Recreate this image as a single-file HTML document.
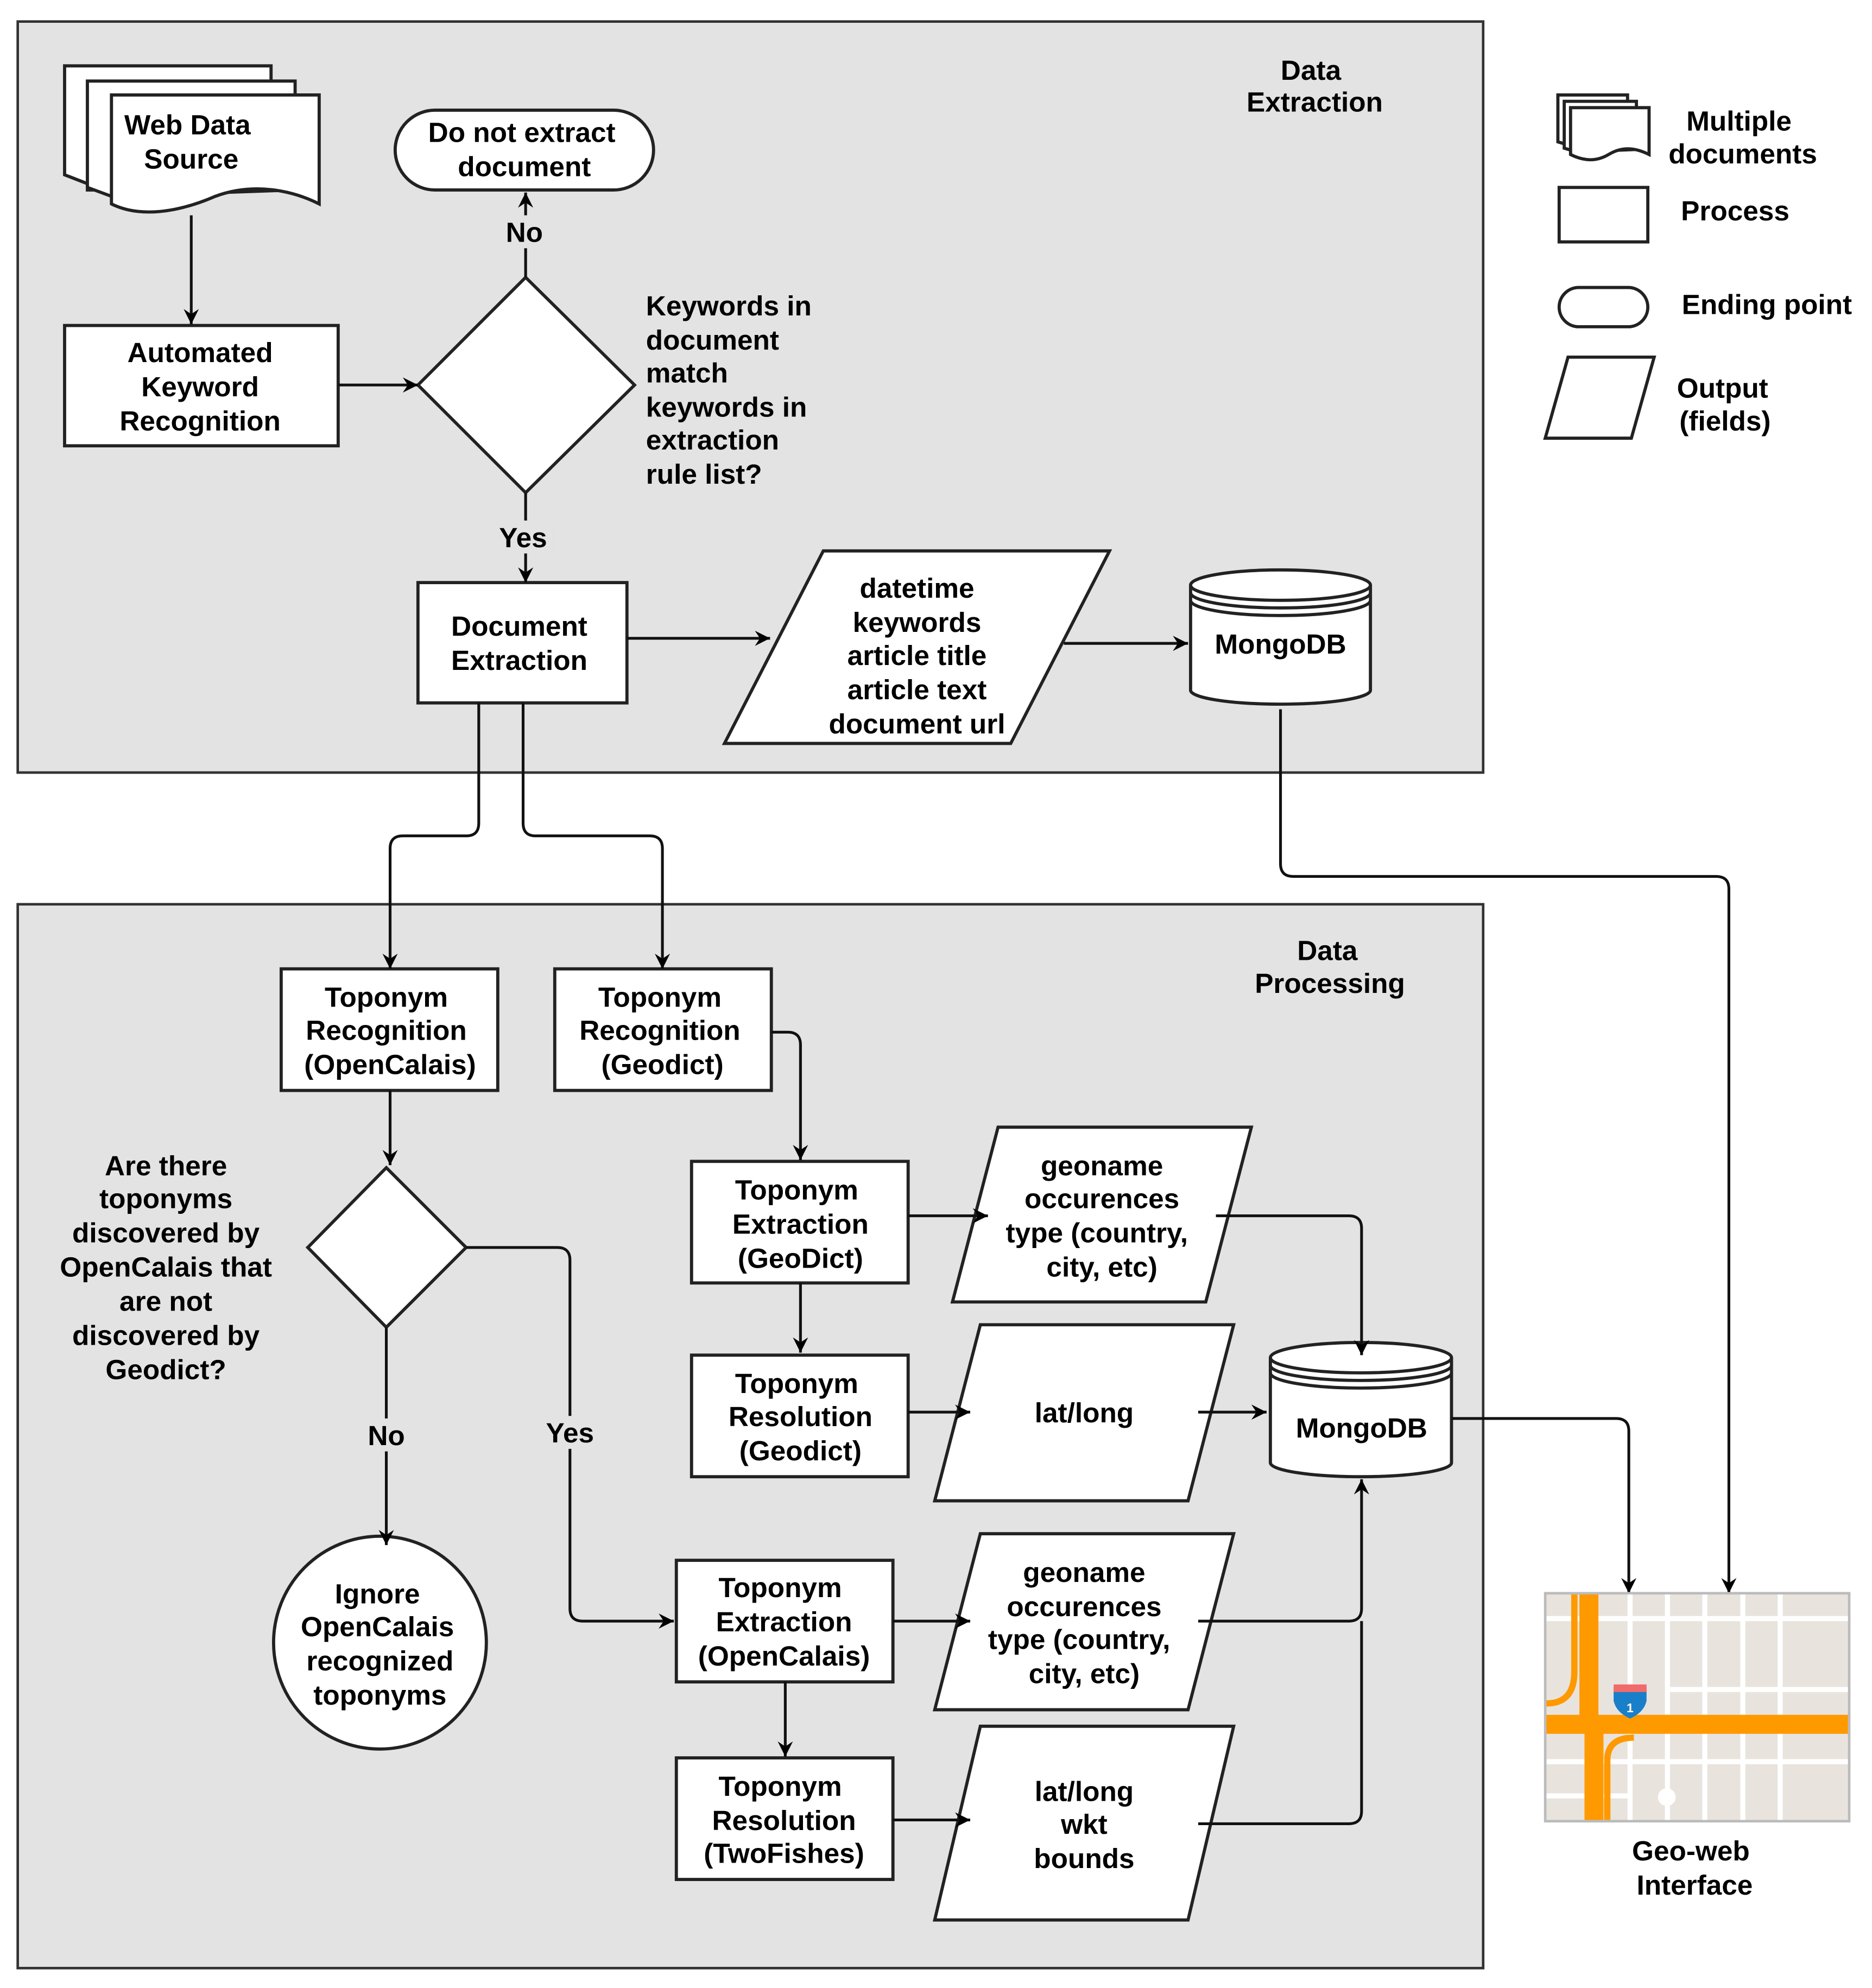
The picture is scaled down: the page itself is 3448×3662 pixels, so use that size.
<!DOCTYPE html>
<html><head><meta charset="utf-8"><style>html,body{margin:0;padding:0;background:#fff}svg{display:block}</style></head>
<body>
<svg width="3448" height="3662" viewBox="0 0 1478 1569.7" preserveAspectRatio="none" xmlns="http://www.w3.org/2000/svg" font-family="Liberation Sans, Arial, sans-serif" font-weight="bold" font-size="22">
<defs>
<marker id="a" markerUnits="userSpaceOnUse" markerWidth="14" markerHeight="12" refX="12" refY="6" orient="auto"><path d="M0,0 L12,6 L0,12 L4,6 Z" fill="#000"/></marker>
</defs>
<rect width="1478" height="1570" fill="#fff"/>
<rect x="14" y="17" width="1157" height="593" fill="#e3e3e3" stroke="#333" stroke-width="2"/>
<rect x="14" y="714" width="1157" height="840" fill="#e3e3e3" stroke="#333" stroke-width="2"/>

<g stroke="#222" stroke-width="2.5" fill="#fff">
<path d="M51,52 L214,52 L214,150 L69,150 L69,145 L51,138 Z"/>
<path d="M69,64 L233,64 L233,150 L88,155 L69,148 Z"/>
<path d="M88,75 L252,75 L252,161 C230,150 200,144 170,155 C140,168 110,172 88,161 Z"/>
<rect x="51" y="257" width="216" height="95"/>
<path d="M415,219 L501,304 L415,389 L330,304 Z"/>
<rect x="312" y="87" width="204" height="63" rx="31.5"/>
<rect x="330" y="460" width="165" height="95"/>
<path d="M650,435 L876,435 L798,587 L572,587 Z"/>
<rect x="222" y="765" width="171" height="96"/>
<rect x="438" y="765" width="171" height="96"/>
<path d="M305,922 L368,985 L305,1048 L243,985 Z"/>
<circle cx="300" cy="1297" r="84"/>
<rect x="546" y="917" width="171" height="96"/>
<path d="M788,890 L988,890 L952,1028 L752,1028 Z"/>
<rect x="546" y="1070" width="171" height="96"/>
<path d="M774,1046 L974,1046 L938,1185 L738,1185 Z"/>
<rect x="534" y="1232" width="171" height="96"/>
<path d="M774,1211 L974,1211 L938,1350 L738,1350 Z"/>
<rect x="534" y="1388" width="171" height="96"/>
<path d="M774,1363 L974,1363 L938,1516 L738,1516 Z"/>
<!-- cylinders -->
<path d="M940,462 L940,545 A71,11 0 0 0 1082,545 L1082,462 A71,12 0 0 0 940,462 Z"/>
<path d="M940,462 A71,12 0 0 0 1082,462 M940,468 A71,12 0 0 0 1082,468 M940,474 A71,12 0 0 0 1082,474" fill="none"/>
<path d="M1003,1072 L1003,1155 A71.5,11 0 0 0 1146,1155 L1146,1072 A71.5,12 0 0 0 1003,1072 Z"/>
<path d="M1003,1072 A71.5,12 0 0 0 1146,1072 M1003,1078 A71.5,12 0 0 0 1146,1078 M1003,1084 A71.5,12 0 0 0 1146,1084" fill="none"/>
<!-- legend -->
<path d="M1230,75 L1285,75 L1285,115 L1240,115 L1230,112 Z"/>
<path d="M1235,80 L1292,80 L1292,118 L1245,120 L1235,117 Z"/>
<path d="M1240,85 L1302,85 L1302,122 C1290,116 1280,116 1270,122 C1260,128 1250,127 1240,122 Z"/>
<rect x="1231" y="148" width="70" height="43"/>
<rect x="1231" y="227" width="70" height="31" rx="15.5"/>
<path d="M1238,282 L1306,282 L1288,346 L1220,346 Z"/>
</g>

<g stroke="#111" stroke-width="2.2" fill="none" marker-end="url(#a)">
<path d="M151,170 L151,256"/>
<path d="M267,304 L330,304"/>
<path d="M415,219 L415,152"/>
<path d="M415,389 L415,460"/>
<path d="M495,504 L608,504"/>
<path d="M840,508 L938,508"/>
<path d="M1011,560 L1011,682 Q1011,692 1021,692 L1355,692 Q1365,692 1365,702 L1365,1258"/>
<path d="M378,555 L378,650 Q378,660 368,660 L318,660 Q308,660 308,670 L308,765"/>
<path d="M413,555 L413,650 Q413,660 423,660 L513,660 Q523,660 523,670 L523,765"/>
<path d="M308,861 L308,920"/>
<path d="M305,1048 L305,1220"/>
<path d="M368,985 L440,985 Q450,985 450,995 L450,1270 Q450,1280 460,1280 L532,1280"/>
<path d="M609,815 L622,815 Q632,815 632,825 L632,916"/>
<path d="M717,960 L780,960"/>
<path d="M960,960 L1065,960 Q1075,960 1075,970 L1075,1070"/>
<path d="M632,1013 L632,1068"/>
<path d="M717,1115 L766,1115"/>
<path d="M946,1115 L1000,1115"/>
<path d="M1146,1120 L1276,1120 Q1286,1120 1286,1130 L1286,1258"/>
<path d="M705,1280 L766,1280"/>
<path d="M946,1280 L1065,1280 Q1075,1280 1075,1270 L1075,1168"/>
<path d="M620,1328 L620,1387"/>
<path d="M705,1437 L766,1437"/>
<path d="M946,1440 L1065,1440 Q1075,1440 1075,1430 L1075,1280" marker-end="none"/>
</g>

<!-- label backgrounds -->
<g fill="#e3e3e3">
<rect x="396" y="170" width="36" height="26"/>
<rect x="390" y="411" width="46" height="26"/>
<rect x="286" y="1120" width="40" height="26"/>
<rect x="428" y="1118" width="46" height="26"/>
</g>

<!-- map -->
<rect x="1220" y="1258" width="240" height="180" fill="#e8e4dd" stroke="#bbb" stroke-width="2"/>
<g fill="#fff">
<rect x="1285" y="1259" width="4" height="178"/>
<rect x="1314.5" y="1259" width="4" height="178"/>
<rect x="1344" y="1259" width="4" height="178"/>
<rect x="1374" y="1259" width="4" height="178"/>
<rect x="1403.5" y="1259" width="4" height="178"/>
<rect x="1221" y="1276" width="238" height="4"/>
<rect x="1316" y="1332" width="143" height="4"/>
<rect x="1221" y="1389" width="238" height="4"/>
<rect x="1221" y="1416" width="66" height="4"/>
<circle cx="1316" cy="1419" r="7"/>
</g>
<g fill="#f90">
<rect x="1247" y="1259" width="15" height="100"/>
<rect x="1251" y="1355" width="15" height="82"/>
<rect x="1221" y="1354" width="238" height="15"/>
</g>
<g stroke="#f90" stroke-width="5" fill="none">
<path d="M1221,1345 Q1243,1345 1243,1320 L1243,1259"/>
<path d="M1269,1437 L1269,1390 Q1269,1372 1290,1372"/>
</g>
<path d="M1274,1332 L1300,1332 L1300,1343 Q1298,1352 1287,1357 Q1276,1352 1274,1343 Z" fill="#1a7fc9"/>
<rect x="1274" y="1330" width="26" height="6" fill="#f26b6b"/>
<text x="1287" y="1352" font-size="10" fill="#fff" text-anchor="middle">1</text>

<g fill="#000" text-anchor="middle">
<text x="148" y="106">Web Data</text><text x="151" y="133">Source</text>
<text x="158" y="286">Automated</text><text x="158" y="313">Keyword</text><text x="158" y="340">Recognition</text>
<text x="412" y="112">Do not extract</text><text x="414" y="139">document</text>
<text x="414" y="191">No</text>
<text x="413" y="432">Yes</text>
<text x="410" y="502">Document</text><text x="410" y="529">Extraction</text>
<text x="724" y="472">datetime</text><text x="724" y="499">keywords</text><text x="724" y="525">article title</text><text x="724" y="552">article text</text><text x="724" y="579">document url</text>
<text x="1011" y="516">MongoDB</text>
<text x="1035" y="63">Data</text><text x="1038" y="88">Extraction</text>
<text x="1048" y="758">Data</text><text x="1050" y="784">Processing</text>
<text x="1373" y="103">Multiple</text><text x="1376" y="129">documents</text>
<text x="1370" y="174">Process</text>
<text x="1395" y="248">Ending point</text>
<text x="1360" y="314">Output</text><text x="1362" y="340">(fields)</text>
<text x="305" y="795">Toponym</text><text x="305" y="821">Recognition</text><text x="308" y="848">(OpenCalais)</text>
<text x="521" y="795">Toponym</text><text x="521" y="821">Recognition</text><text x="523" y="848">(Geodict)</text>
<text x="131" y="928">Are there</text><text x="131" y="954">toponyms</text><text x="131" y="981">discovered by</text><text x="131" y="1008">OpenCalais that</text><text x="131" y="1035">are not</text><text x="131" y="1062">discovered by</text><text x="131" y="1089">Geodict?</text>
<text x="305" y="1141">No</text>
<text x="450" y="1139">Yes</text>
<text x="298" y="1266">Ignore</text><text x="298" y="1292">OpenCalais</text><text x="300" y="1319">recognized</text><text x="300" y="1346">toponyms</text>
<text x="629" y="947">Toponym</text><text x="632" y="974">Extraction</text><text x="632" y="1001">(GeoDict)</text>
<text x="870" y="928">geoname</text><text x="870" y="954">occurences</text><text x="866" y="981">type (country,</text><text x="870" y="1008">city, etc)</text>
<text x="629" y="1100">Toponym</text><text x="632" y="1126">Resolution</text><text x="632" y="1153">(Geodict)</text>
<text x="856" y="1123">lat/long</text>
<text x="1075" y="1135">MongoDB</text>
<text x="616" y="1261">Toponym</text><text x="619" y="1288">Extraction</text><text x="619" y="1315">(OpenCalais)</text>
<text x="856" y="1249">geoname</text><text x="856" y="1276">occurences</text><text x="852" y="1302">type (country,</text><text x="856" y="1329">city, etc)</text>
<text x="616" y="1418">Toponym</text><text x="619" y="1445">Resolution</text><text x="619" y="1471">(TwoFishes)</text>
<text x="856" y="1422">lat/long</text><text x="856" y="1448">wkt</text><text x="856" y="1475">bounds</text>
<text x="1335" y="1469">Geo-web</text><text x="1338" y="1496">Interface</text>
</g>
<g fill="#000" text-anchor="start">
<text x="510" y="249">Keywords in</text><text x="510" y="276">document</text><text x="510" y="302">match</text><text x="510" y="329">keywords in</text><text x="510" y="355">extraction</text><text x="510" y="382">rule list?</text>
</g>
</svg>
</body></html>
